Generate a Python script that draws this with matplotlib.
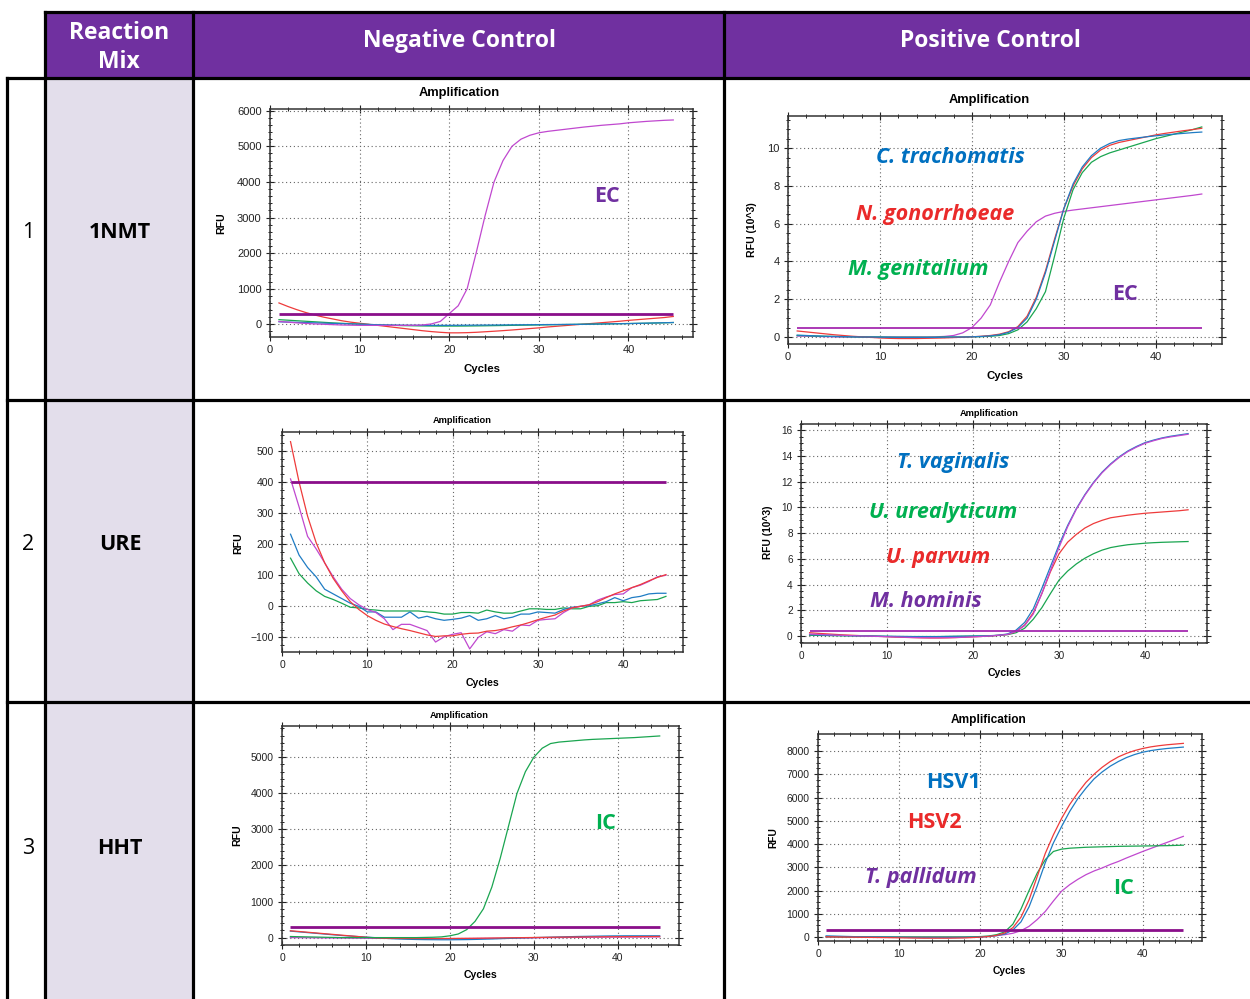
import matplotlib
matplotlib.use("Agg")
import matplotlib.pyplot as plt
from matplotlib.patches import Rectangle
from matplotlib.ticker import MultipleLocator

plt.rcParams['font.family'] = ['Liberation Sans', 'DejaVu Sans']

# ---------------- data ----------------
cycles = list(range(1, 46))

# Row 1 negative control (RFU)
nc1_ec = [80, 60, 40, 25, 10, 0, -10, -20, -25, -30, -30, -30, -30, -30, -30, -28, -20, 10, 80, 300,
          520, 1000, 2000, 3050, 4000, 4600, 5000, 5200, 5310, 5380, 5420, 5450, 5480, 5510, 5540,
          5565, 5590, 5610, 5630, 5660, 5680, 5700, 5715, 5730, 5740]
nc1_red = [600, 500, 410, 330, 260, 200, 150, 100, 60, 30, 0, -30, -60, -90, -120, -150, -180, -205, -225, -240,
           -240, -235, -225, -210, -195, -178, -160, -140, -120, -100, -75, -55, -35, -15, 5, 25, 45, 65, 85, 110,
           130, 150, 170, 190, 220]
nc1_green = [130, 115, 100, 85, 70, 55, 40, 28, 15, 5, -5, -15, -25, -32, -38, -42, -46, -48, -50, -50,
             -50, -48, -45, -42, -38, -34, -30, -26, -22, -18, -14, -10, -6, -2, 2, 6, 10, 14, 18, 22,
             26, 30, 36, 42, 50]
nc1_blue = [70, 62, 55, 48, 40, 32, 25, 18, 10, 2, -5, -12, -18, -22, -26, -28, -30, -30, -30, -30,
            -28, -26, -24, -22, -20, -18, -16, -14, -12, -10, -8, -6, -4, -2, 0, 4, 8, 12, 16, 20,
            26, 32, 38, 44, 50]
nc1_thr = 300

# Row 1 positive control (RFU x10^3)
pc1_ct = [0.10, 0.08, 0.06, 0.04, 0.03, 0.02, 0.01, 0.0, 0.0, -0.01, -0.01, -0.02, -0.02, -0.02, -0.02, -0.02,
          -0.01, 0.0, 0.0, 0.01, 0.03, 0.06, 0.12, 0.25, 0.50, 1.0, 2.0, 3.4, 5.1, 6.8, 8.1, 9.0, 9.6, 10.0,
          10.25, 10.4, 10.48, 10.54, 10.6, 10.65, 10.7, 10.74, 10.78, 10.82, 10.85]
pc1_ng = [0.32, 0.27, 0.22, 0.17, 0.12, 0.08, 0.04, 0.01, -0.02, -0.05, -0.07, -0.08, -0.08, -0.08, -0.07,
          -0.06, -0.05, -0.03, -0.01, 0.01, 0.04, 0.08, 0.15, 0.28, 0.55, 1.1, 2.1, 3.5, 5.2, 6.8, 8.0, 8.9,
          9.5, 9.9, 10.15, 10.3, 10.4, 10.5, 10.6, 10.7, 10.78, 10.85, 10.92, 10.98, 11.05]
pc1_mg = [0.08, 0.07, 0.05, 0.04, 0.03, 0.02, 0.01, 0.0, 0.0, 0.0, -0.01, -0.01, -0.01, -0.01, -0.01, -0.01,
          0.0, 0.0, 0.0, 0.01, 0.02, 0.04, 0.08, 0.18, 0.38, 0.8, 1.5, 2.4, 4.3, 6.3, 7.8, 8.7, 9.25, 9.55,
          9.75, 9.9, 10.05, 10.2, 10.35, 10.5, 10.62, 10.74, 10.86, 10.98, 11.12]
pc1_ec = [0.05, 0.04, 0.03, 0.02, 0.01, 0.0, 0.0, 0.0, 0.0, 0.0, 0.0, 0.0, 0.0, 0.0, 0.0, 0.01, 0.03, 0.08,
          0.22, 0.5, 1.0, 1.7, 2.9, 4.0, 5.0, 5.6, 6.1, 6.4, 6.55, 6.65, 6.72, 6.78, 6.84, 6.9, 6.96, 7.02,
          7.08, 7.14, 7.2, 7.26, 7.32, 7.38, 7.44, 7.5, 7.57]
pc1_thr = 0.5

# Row 2 negative control (RFU)
nc2_red = [530, 400, 290, 205, 140, 90, 50, 15, -10, -30, -45, -57, -65, -72, -78, -85, -92, -97, -95, -95,
           -90, -87, -86, -80, -78, -73, -66, -60, -52, -43, -35, -28, -15, -5, 0, 5, 15, 28, 40, 50,
           60, 70, 82, 93, 102]
nc2_mag = [410, 320, 225, 185, 140, 95, 55, 25, 5, -10, -20, -40, -75, -58, -58, -68, -78, -115, -98, -90,
           -85, -137, -100, -82, -88, -75, -80, -60, -62, -45, -42, -40, -20, -5, 0, 5, 20, 30, 38, 40,
           60, 68, 80, 95, 100]
nc2_blue = [232, 165, 125, 95, 55, 40, 25, 10, 0, -18, -18, -35, -35, -35, -18, -38, -32, -40, -45, -42,
            -38, -30, -45, -40, -30, -40, -35, -25, -25, -18, -20, -22, -10, -3, 0, 2, 8, 15, 28, 18,
            28, 32, 40, 42, 42]
nc2_green = [155, 105, 75, 50, 32, 22, 10, -3, -5, -10, -12, -15, -15, -15, -15, -15, -18, -20, -25, -25,
             -20, -20, -22, -12, -18, -22, -22, -15, -8, -8, -10, -10, -5, -8, -8, 0, 2, 12, 12, 15,
             12, 18, 20, 22, 32]
nc2_thr = 400

# Row 2 positive control (RFU x10^3)
pc2_tv = [0.10, 0.08, 0.06, 0.04, 0.03, 0.02, 0.01, 0.0, -0.01, -0.02, -0.03, -0.04, -0.05, -0.05, -0.05,
          -0.05, -0.04, -0.03, -0.02, -0.01, 0.0, 0.02, 0.06, 0.15, 0.45, 1.05, 2.1, 3.7, 5.4, 7.1, 8.6, 9.9,
          11.0, 11.95, 12.75, 13.4, 13.95, 14.4, 14.75, 15.05, 15.25, 15.42, 15.55, 15.65, 15.75]
pc2_mh = [0.15, 0.12, 0.09, 0.06, 0.04, 0.02, 0.0, -0.02, -0.04, -0.06, -0.08, -0.1, -0.12, -0.13, -0.14,
          -0.14, -0.13, -0.12, -0.1, -0.07, -0.04, 0.0, 0.05, 0.12, 0.35, 0.8, 1.7, 3.3, 5.1, 6.9, 8.5, 9.85,
          10.95, 11.9, 12.7, 13.35, 13.9, 14.35, 14.7, 15.0, 15.2, 15.38, 15.5, 15.6, 15.7]
pc2_up = [0.25, 0.2, 0.16, 0.12, 0.08, 0.05, 0.02, 0.0, -0.03, -0.06, -0.09, -0.11, -0.13, -0.15, -0.16,
          -0.16, -0.15, -0.13, -0.1, -0.07, -0.04, 0.0, 0.05, 0.12, 0.35, 0.85, 1.8, 3.3, 5.0, 6.4, 7.3, 7.9,
          8.4, 8.75, 9.0, 9.2, 9.3, 9.4, 9.48, 9.55, 9.6, 9.65, 9.7, 9.75, 9.82]
pc2_uu = [0.05, 0.04, 0.03, 0.02, 0.01, 0.0, -0.01, -0.02, -0.03, -0.04, -0.05, -0.05, -0.05, -0.05, -0.05,
          -0.05, -0.04, -0.03, -0.02, -0.01, 0.0, 0.01, 0.04, 0.1, 0.25, 0.6, 1.3, 2.2, 3.3, 4.35, 5.05, 5.6,
          6.05, 6.4, 6.68, 6.88, 7.0, 7.1, 7.16, 7.22, 7.26, 7.29, 7.31, 7.33, 7.35]
pc2_thr = 0.4

# Row 3 negative control (RFU)
nc3_ic = [30, 25, 20, 15, 10, 5, 0, 0, 0, 0, 0, 0, 0, 0, 0, 0, 5, 10, 20, 50,
          100, 220, 450, 800, 1400, 2200, 3100, 4000, 4600, 5000, 5250, 5380, 5420, 5440, 5460, 5480,
          5495, 5505, 5515, 5525, 5535, 5545, 5560, 5575, 5590]
nc3_red = [190, 170, 150, 130, 110, 90, 70, 50, 30, 10, -5, -15, -20, -22, -24, -25, -25, -25, -25, -24,
           -22, -20, -18, -15, -12, -9, -6, -3, 0, 3, 6, 9, 12, 14, 16, 18, 20, 22, 24, 25,
           26, 27, 28, 29, 30]
nc3_blue = [180, 160, 140, 120, 100, 80, 60, 45, 30, 15, 0, -15, -28, -38, -46, -52, -56, -58, -60, -60,
            -58, -55, -50, -44, -38, -30, -22, -14, -6, 0, 6, 12, 18, 24, 30, 34, 38, 42, 46, 48,
            50, 50, 50, 50, 50]
nc3_mag = [0, -2, -4, -6, -8, -10, -12, -14, -16, -18, -20, -22, -24, -25, -26, -27, -28, -28, -28, -28,
           -27, -26, -24, -22, -20, -17, -14, -11, -8, -5, -2, 0, 2, 4, 6, 8, 10, 12, 14, 15,
           16, 17, 18, 19, 20]
nc3_thr = 300

# Row 3 positive control (RFU)
pc3_hsv1 = [50, 40, 30, 20, 10, 5, 0, -5, -10, -15, -20, -25, -30, -30, -30, -30, -25, -20, -10, 0,
            20, 60, 130, 300, 650, 1300, 2200, 3200, 4050, 4750, 5400, 5950, 6400, 6800, 7100, 7350,
            7550, 7720, 7850, 7950, 8020, 8070, 8110, 8140, 8170]
pc3_hsv2 = [10, 5, 0, -5, -10, -15, -20, -25, -30, -35, -40, -45, -50, -50, -50, -50, -45, -40, -25, -5,
            20, 70, 170, 400, 850, 1600, 2600, 3600, 4400, 5100, 5700, 6200, 6650, 7000, 7300, 7550,
            7750, 7900, 8020, 8110, 8180, 8230, 8270, 8300, 8330]
pc3_ic = [10, 5, 0, 0, 0, 0, 0, 0, 0, 0, 0, 0, 0, 0, 0, 0, 0, 0, 5, 20,
          40, 100, 220, 550, 1200, 2000, 2750, 3330, 3680, 3780, 3820, 3840, 3860, 3870, 3880, 3890,
          3900, 3905, 3910, 3915, 3920, 3925, 3930, 3940, 3950]
pc3_tp = [0, 0, 0, 0, 0, 0, 0, 0, 0, 0, 0, 0, 0, 0, 0, 0, 0, 0, 0, 10,
          30, 60, 100, 160, 270, 460, 750, 1100, 1550, 1970, 2250, 2480, 2680, 2840, 2970, 3120,
          3250, 3400, 3540, 3680, 3810, 3940, 4070, 4200, 4330]
pc3_thr = 300

header_labels = ["Reaction", "Mix", "Negative Control", "Positive Control"]
row_numbers = ["1", "2", "3"]
row_mixes = ["1NMT", "URE", "HHT"]

# ---------------- styling ----------------
W, H = 1250, 999
HEAD = '#7030A0'
LAV = '#E3DEEB'
C_RED = '#EE3B3B'
C_GRN = '#1AA550'
C_BLU = '#1F7CC4'
C_MAG = '#C048CF'
C_THR = '#8A0E8A'
C_THR2 = '#A52AB0'
A_BLU = '#0070C0'
A_RED = '#EA2A2A'
A_GRN = '#00B050'
A_PUR = '#7030A0'
HFONT = ['Open Sans', 'DejaVu Sans']

fig = plt.figure(figsize=(W / 100, H / 100), dpi=100)
fig.patch.set_facecolor('white')

bg = fig.add_axes([0, 0, 1, 1], zorder=-5)
bg.set_xlim(0, W)
bg.set_ylim(H, 0)
bg.axis('off')
bg.add_patch(Rectangle((45, 12), W - 45, 66, facecolor=HEAD, lw=0))
bg.add_patch(Rectangle((45, 78), 148, H - 78, facecolor=LAV, lw=0))
LW = 2.3
for y, x0 in [(12, 45), (78, 7), (400, 7), (702, 7)]:
    bg.plot([x0, W], [y, y], color='black', lw=LW, solid_capstyle='projecting')
for x, y0 in [(7, 78), (45, 12), (193, 12), (724, 12)]:
    bg.plot([x, x], [y0, H + 5], color='black', lw=LW, solid_capstyle='projecting')


def T(x, y, s, **kw):
    return fig.text(x / W, 1 - y / H, s, **kw)


# header
HFS = 16.5
T(119, 39, header_labels[0], color='white', fontsize=HFS, fontweight='bold', family=HFONT,
  ha='center', va='baseline')
T(119, 68, header_labels[1], color='white', fontsize=HFS, fontweight='bold', family=HFONT,
  ha='center', va='baseline')
T(459, 47, header_labels[2], color='white', fontsize=HFS, fontweight='bold', family=HFONT,
  ha='center', va='baseline')
T(990, 47, header_labels[3], color='white', fontsize=HFS, fontweight='bold', family=HFONT,
  ha='center', va='baseline')
for yc, num, mix in zip([233, 545, 848], row_numbers, row_mixes):
    T(28, yc, num, color='black', fontsize=15.5, family=HFONT, ha='center', va='center')
    T(120, yc, mix, color='black', fontsize=15.5, fontweight='bold', family=HFONT, ha='center', va='center')


def panel(box, xlim, ylim, ymaj, ymin, series, thr, thr_color, thr_lw, tick_fs,
          title, title_xy, title_fs, xl_xy, xl_fs, yl, yl_xy, yl_fs):
    l, r, t, b = box
    ax = fig.add_axes([l / W, 1 - b / H, (r - l) / W, (b - t) / H])
    ax.set_xlim(*xlim)
    ax.set_ylim(*ylim)
    ax.xaxis.set_major_locator(MultipleLocator(10))
    ax.xaxis.set_minor_locator(MultipleLocator(2))
    ax.yaxis.set_major_locator(MultipleLocator(ymaj))
    ax.yaxis.set_minor_locator(MultipleLocator(ymin))
    ax.grid(which='major', linestyle=(0, (1, 2.5)), color='#666666', lw=0.8)
    ax.tick_params(which='major', direction='inout', length=6, width=0.8, top=True, right=True,
                   labelsize=tick_fs, pad=3, colors='#222222')
    ax.tick_params(which='minor', direction='inout', length=3.5, width=0.7, top=True, right=True,
                   colors='#222222')
    for sp in ax.spines.values():
        sp.set_color('#333333')
        sp.set_linewidth(1.1)
    for ys, col in series:
        ax.plot(cycles, ys, color=col, lw=0.9)
    ax.plot([cycles[0], cycles[-1]], [thr, thr], color=thr_color, lw=thr_lw, solid_capstyle='butt')
    T(title_xy[0], title_xy[1], title, fontsize=title_fs, fontweight='bold', ha='center', va='center')
    T(xl_xy[0], xl_xy[1], 'Cycles', fontsize=xl_fs, fontweight='bold', ha='center', va='center')
    T(yl_xy[0], yl_xy[1], yl, fontsize=yl_fs, fontweight='bold', ha='center', va='center', rotation=90)
    return ax


panel((270, 693, 109, 337), (0, 47.2), (-357, 6048), 1000, 200,
      [(nc1_red, C_RED), (nc1_green, C_GRN), (nc1_blue, C_BLU), (nc1_ec, C_MAG)],
      nc1_thr, C_THR, 2.0, 8, 'Amplification', (459, 93), 9.3, (482, 369), 8.2, 'RFU', (221, 223), 7.6)

panel((788, 1222, 116, 344), (0, 47.2), (-0.37, 11.7), 2, 0.5,
      [(pc1_ec, C_MAG), (pc1_mg, C_GRN), (pc1_ng, C_RED), (pc1_ct, C_BLU)],
      pc1_thr, C_THR2, 1.3, 8, 'Amplification', (989, 100), 9.3, (1005, 376), 8.2, 'RFU (10^3)', (752, 230), 7.6)

panel((282, 683, 432, 652), (0, 47.0), (-147, 561), 100, 25,
      [(nc2_green, C_GRN), (nc2_blue, C_BLU), (nc2_mag, C_MAG), (nc2_red, C_RED)],
      nc2_thr, C_THR, 2.0, 7.5, 'Amplification', (462, 421), 6.7, (482, 683), 7.6, 'RFU', (238, 543), 7.6)

panel((801, 1207, 424, 643), (0, 47.2), (-0.55, 16.5), 2, 0.5,
      [(pc2_uu, C_GRN), (pc2_up, C_RED), (pc2_tv, C_BLU), (pc2_mh, C_MAG)],
      pc2_thr, C_THR2, 1.3, 7.2, 'Amplification', (989, 413), 6.7, (1004, 673), 7.6, 'RFU (10^3)', (768, 532), 7.4)

panel((282, 679, 726, 945), (0, 47.3), (-205, 5866), 1000, 200,
      [(nc3_mag, C_MAG), (nc3_blue, C_BLU), (nc3_red, C_RED), (nc3_ic, C_GRN)],
      nc3_thr, C_THR, 2.0, 7.5, 'Amplification', (459, 715), 6.7, (481, 975), 7.6, 'RFU', (237, 835), 7.6)

panel((818, 1202, 734, 941), (0, 47.3), (-172, 8733), 1000, 250,
      [(pc3_tp, C_MAG), (pc3_ic, C_GRN), (pc3_hsv1, C_BLU), (pc3_hsv2, C_RED)],
      pc3_thr, C_THR, 2.0, 7.5, 'Amplification', (989, 720), 8.6, (1009, 971), 7.4, 'RFU', (773, 838), 7.4)


# annotations (pixel baseline positions)
def A(x, y, s, col, italic=False):
    T(x, y, s, color=col, fontsize=15.5, fontweight='bold', family=HFONT,
      style='italic' if italic else 'normal', ha='center', va='baseline')


A(607, 202, 'EC', A_PUR)
A(950, 163, 'C. trachomatis', A_BLU, True)
A(935, 220, 'N. gonorrhoeae', A_RED, True)
A(918, 275, 'M. genitalium', A_GRN, True)
A(1125, 300, 'EC', A_PUR)
A(953, 468, 'T. vaginalis', A_BLU, True)
A(943, 518, 'U. urealyticum', A_GRN, True)
A(938, 563, 'U. parvum', A_RED, True)
A(926, 607, 'M. hominis', A_PUR, True)
A(606, 829, 'IC', A_GRN)
A(953, 788, 'HSV1', A_BLU)
A(934, 828, 'HSV2', A_RED)
A(921, 883, 'T. pallidum', A_PUR, True)
A(1124, 894, 'IC', A_GRN)

fig.savefig('out.png', dpi=100, facecolor='white')
